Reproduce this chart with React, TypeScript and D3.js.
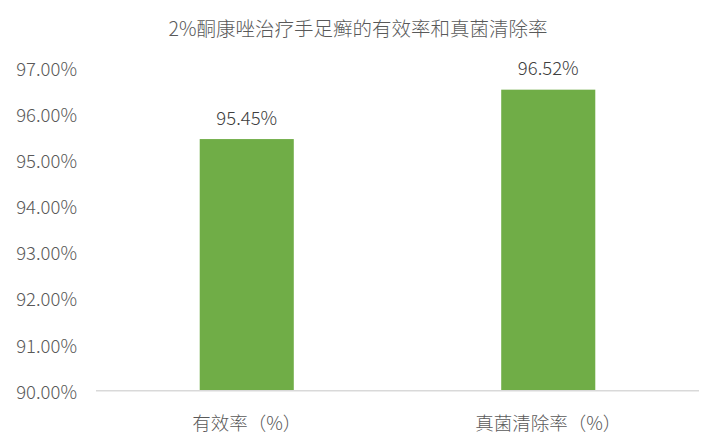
import React, { useEffect, useRef } from 'react';
import * as d3 from 'd3';

const title = '2%酮康唑治疗手足癣的有效率和真菌清除率';
const categories = ['有效率（%）', '真菌清除率（%）'];
const values = [95.45, 96.52];
const yTicks = [90, 91, 92, 93, 94, 95, 96, 97];

const App: React.FC = () => {
  const svgRef = useRef<SVGSVGElement>(null);

  useEffect(() => {
    if (!svgRef.current) return;
    const svg = d3.select(svgRef.current);
    svg.selectAll('*').remove();

    const width = 717;
    const height = 444;
    const margin = { top: 67.5, right: 18, bottom: 53.3, left: 96 };
    const font = '"Noto Sans CJK SC", "Noto Sans", sans-serif';

    const x = d3.scaleBand<string>()
      .domain(categories)
      .range([margin.left, width - margin.right])
      .paddingInner(0.688)
      .paddingOuter(0.344);

    const y = d3.scaleLinear()
      .domain([90, 97])
      .range([height - margin.bottom, margin.top]);

    // 标题
    svg.append('text')
      .attr('x', 358)
      .attr('y', 27)
      .attr('text-anchor', 'middle')
      .attr('dominant-baseline', 'central')
      .style('font-family', font)
      .style('font-size', '19.5px')
      .style('font-weight', 300)
      .attr('fill', '#595959')
      .text(title);

    // y 轴刻度标签
    svg.append('g')
      .selectAll('text')
      .data(yTicks)
      .enter().append('text')
      .attr('x', 77)
      .attr('y', (d) => y(d))
      .attr('text-anchor', 'end')
      .attr('dominant-baseline', 'central')
      .style('font-family', font)
      .style('font-size', '18.5px')
      .style('font-weight', 300)
      .attr('fill', '#595959')
      .text((d) => d.toFixed(2) + '%');

    // 柱子
    svg.append('g')
      .selectAll('rect')
      .data(values)
      .enter().append('rect')
      .attr('x', (_, i) => x(categories[i])!)
      .attr('y', (d) => y(d))
      .attr('width', x.bandwidth())
      .attr('height', (d) => y(90) - y(d))
      .attr('fill', '#70AD47');

    // 横轴线
    svg.append('line')
      .attr('x1', margin.left)
      .attr('x2', width - margin.right)
      .attr('y1', y(90))
      .attr('y2', y(90))
      .attr('stroke', '#d9d9d9')
      .attr('stroke-width', 1.5);

    // 数据标签
    svg.append('g')
      .selectAll('text')
      .data(values)
      .enter().append('text')
      .attr('x', (_, i) => x(categories[i])! + x.bandwidth() / 2)
      .attr('y', (d) => y(d) - 22.5)
      .attr('text-anchor', 'middle')
      .attr('dominant-baseline', 'central')
      .style('font-family', font)
      .style('font-size', '18.5px')
      .style('font-weight', 300)
      .attr('fill', '#404040')
      .text((d) => d.toFixed(2) + '%');

    // 类别标签
    svg.append('g')
      .selectAll('text')
      .data(categories)
      .enter().append('text')
      .attr('x', (d) => x(d)! + x.bandwidth() / 2)
      .attr('y', 421.5)
      .attr('text-anchor', 'middle')
      .attr('dominant-baseline', 'central')
      .style('font-family', font)
      .style('font-size', '18.5px')
      .style('font-weight', 300)
      .attr('fill', '#595959')
      .text((d) => d);
  }, []);

  return (
    <svg
      ref={svgRef}
      width={717}
      height={444}
      style={{ position: 'absolute', left: 0, top: 0, background: '#ffffff' }}
    />
  );
};

export default App;
